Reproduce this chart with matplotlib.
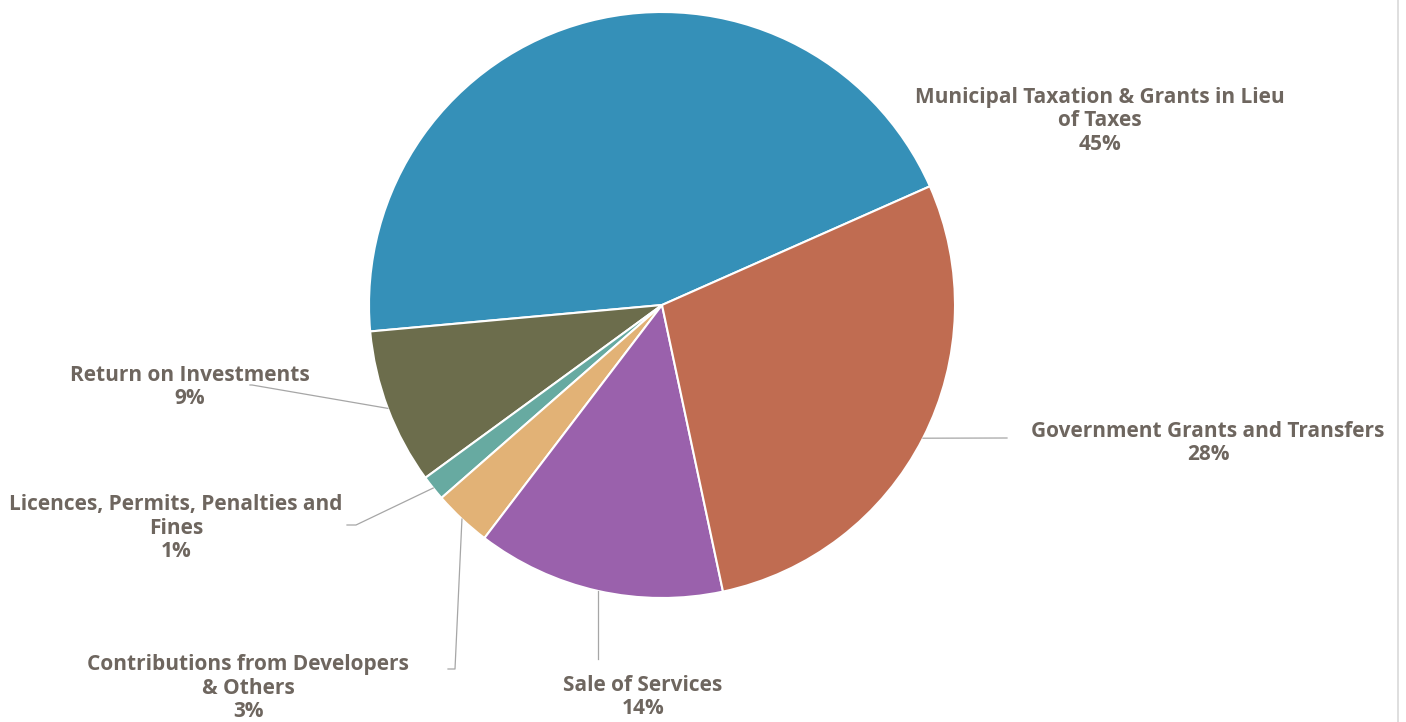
import numpy as np
import matplotlib.pyplot as plt

# -------- Revenue sources --------
categories = [
    "Municipal Taxation & Grants in Lieu\nof Taxes",
    "Return on Investments",
    "Licences, Permits, Penalties and\nFines",
    "Contributions from Developers\n& Others",
    "Sale of Services",
    "Government Grants and Transfers",
]
shares = [44.8, 8.6, 1.4, 3.2, 13.7, 28.3]
colors = ["#3590B8", "#6C6D4C", "#67AAA1", "#E2B276", "#9A61AC", "#C06C51"]

# label block centres (pixel space, y measured up from bottom) and leader elbow points
label_pos = [(1100, 601), (190, 335), (176, 194), (248, 34), (643, 25), (1208, 279)]
elbows = [None, [(252, 337), (250, 337)], [(356, 197), (347, 197)],
          [(455, 53), (448, 53)], [(None, 63)], [(1007, 284)]]

W, H = 1406, 722
CX, CY, R = 662, 417, 293
TEXT_COLOR = "#6E665F"

plt.rcParams["font.family"] = ["Open Sans", "DejaVu Sans"]

fig = plt.figure(figsize=(W / 100, H / 100), dpi=100)
ax = fig.add_axes([0, 0, 1, 1])

wedges, _ = ax.pie(shares, colors=colors, startangle=23.9, counterclock=True,
                   center=(CX, CY), radius=R, frame=True,
                   wedgeprops=dict(edgecolor="white", linewidth=1.5))
ax.set_xlim(0, W)
ax.set_ylim(0, H)
ax.set_aspect("equal")
ax.axis("off")

for w, name, val, (lx, ly), elbow in zip(wedges, categories, shares, label_pos, elbows):
    ax.text(lx, ly, f"{name}\n{val:.0f}%", ha="center", va="center",
            fontsize=15, fontweight="bold", color=TEXT_COLOR, linespacing=1.13)
    if elbow is None:
        continue
    mid = np.deg2rad((w.theta1 + w.theta2) / 2)
    x0, y0 = CX + R * np.cos(mid), CY + R * np.sin(mid)
    # a None x keeps the leader vertical under the anchor
    pts = [(x0, y0)] + [(x0 if ex is None else ex, ey) for ex, ey in elbow]
    xs, ys = zip(*pts)
    ax.plot(xs, ys, color="#A6A6A6", linewidth=0.9)

# thin frame edge on the right
ax.plot([1398, 1398], [0, H], color="#D9D9D9", linewidth=1.2)

fig.savefig("out.png", dpi=100)
